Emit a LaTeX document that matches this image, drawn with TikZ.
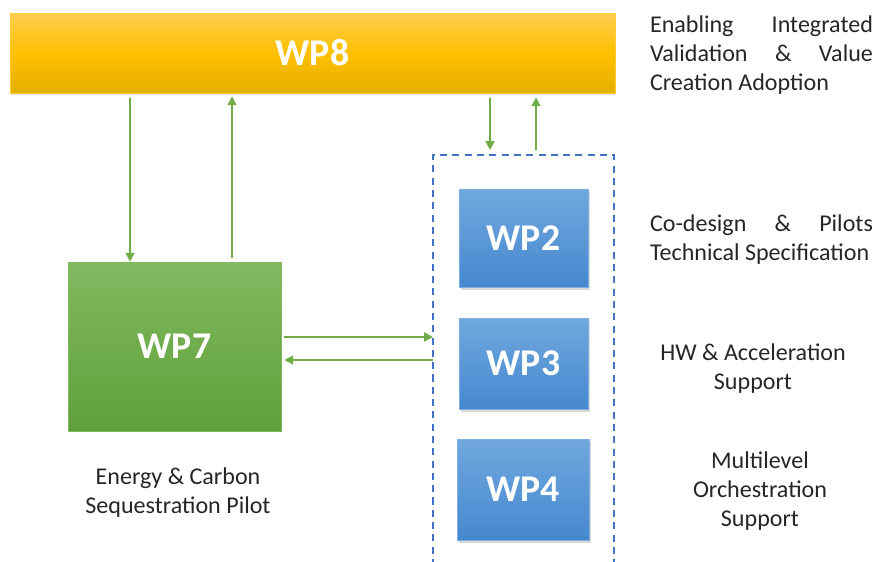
\documentclass[tikz,border=0pt]{standalone}
\usepackage{fontspec}
\setmainfont{Carlito}
\usepackage{tikz}
\usetikzlibrary{arrows.meta, positioning, calc, shadows}
\definecolor{wpgold}{RGB}{255, 192, 0}
\definecolor{wpgoldtop}{RGB}{255, 204, 80}
\definecolor{wpgoldbot}{RGB}{228, 176, 0}
\definecolor{wpgreentop}{RGB}{128, 185, 96}
\definecolor{wpgreenbot}{RGB}{96, 160, 58}
\definecolor{wpbluetop}{RGB}{112, 168, 222}
\definecolor{wpbluebot}{RGB}{70, 136, 206}
\definecolor{flowgreen}{RGB}{112, 173, 71}
\definecolor{grpblue}{RGB}{68, 114, 196}

\begin{document}
\begin{tikzpicture}[
  x=0.02cm, y=-0.02cm,
  wpbox/.style={inner sep=0pt, font=\fontsize{21.5}{25}\selectfont\bfseries, text=white},
  goldbox/.style={wpbox, draw=wpgold!80!white, top color=wpgoldtop, bottom color=wpgoldbot, middle color=wpgold, drop shadow={opacity=0.25, shadow xshift=0.5pt, shadow yshift=-1pt}},
  greenbox/.style={wpbox, draw=wpgreentop, top color=wpgreentop, bottom color=wpgreenbot},
  bluebox/.style={wpbox, draw=wpbluetop!90!white, top color=wpbluetop, bottom color=wpbluebot, drop shadow={opacity=0.3, shadow xshift=1pt, shadow yshift=-1.5pt}},
  desc/.style={inner sep=0pt, font=\fontsize{13.7}{16.5}\selectfont, text=black!85},
  flow/.style={draw=flowgreen, line width=1.2pt, -{Triangle[width=5pt, length=5pt]}},
  grp/.style={draw=grpblue, line width=0.8pt, dash pattern=on 4pt off 3pt}
]
  \useasboundingbox (0,0) rectangle (877,562);

  % work packages
  \node[goldbox, minimum width=12.1cm, minimum height=1.6cm] (wp8) at (312.5,53) {WP8};
  \node[greenbox, minimum width=4.26cm, minimum height=3.38cm] (wp7) at (174.5,346.5) {WP7};
  \node[bluebox, minimum width=2.58cm, minimum height=1.96cm] (wp2) at (523.5,238) {WP2};
  \node[bluebox, minimum width=2.58cm, minimum height=1.82cm] (wp3) at (523.5,363.5) {WP3};
  \node[bluebox, minimum width=2.64cm, minimum height=2.02cm] (wp4) at (523,489.5) {WP4};

  % dashed group, open at the bottom
  \coordinate (grpSW) at (433,566);
  \coordinate (grpNW) at (433,155);
  \coordinate (grpNE) at (614,155);
  \coordinate (grpSE) at (614,566);
  \draw[grp] (grpSW) -- (grpNW) -- (grpNE) -- (grpSE);

  % descriptions
  \node[desc, text width=4.46cm, align=justify] (d8) at (761.5,55.5)
    {Enabling Integrated Validation \& Value Creation Adoption};
  \node[desc, text width=4.46cm, align=justify] (d2) at (761.5,239.5)
    {Co-design \& Pilots Technical Specification};
  \node[desc, align=center] (d3) at (753,369) {HW \& Acceleration\\Support};
  \node[desc, align=center] (d4) at (760,491.5) {Multilevel\\Orchestration\\Support};
  \node[desc, align=center] (d7) at (178,492.5) {Energy \& Carbon\\Sequestration Pilot};

  % connectors
  \draw[flow, shorten <=0.1cm] (wp8.south -| 130,0) -- (wp7.north -| 130,0);
  \draw[flow, shorten <=0.08cm, shorten >=0.06cm] (wp7.north -| 232,0) -- (wp8.south -| 232,0);
  \draw[flow, shorten <=0.1cm, shorten >=0.1cm] (wp8.south -| 490,0) -- (grpNW -| 490,0);
  \draw[flow, shorten <=0.1cm, shorten >=0.08cm] (grpNW -| 536,0) -- (wp8.south -| 536,0);
  \draw[flow, shorten <=0.06cm] (wp7.east |- 0,337) -- (grpNW |- 0,337);
  \draw[flow, shorten >=0.06cm] (grpNW |- 0,360) -- (wp7.east |- 0,360);
\end{tikzpicture}
\end{document}
